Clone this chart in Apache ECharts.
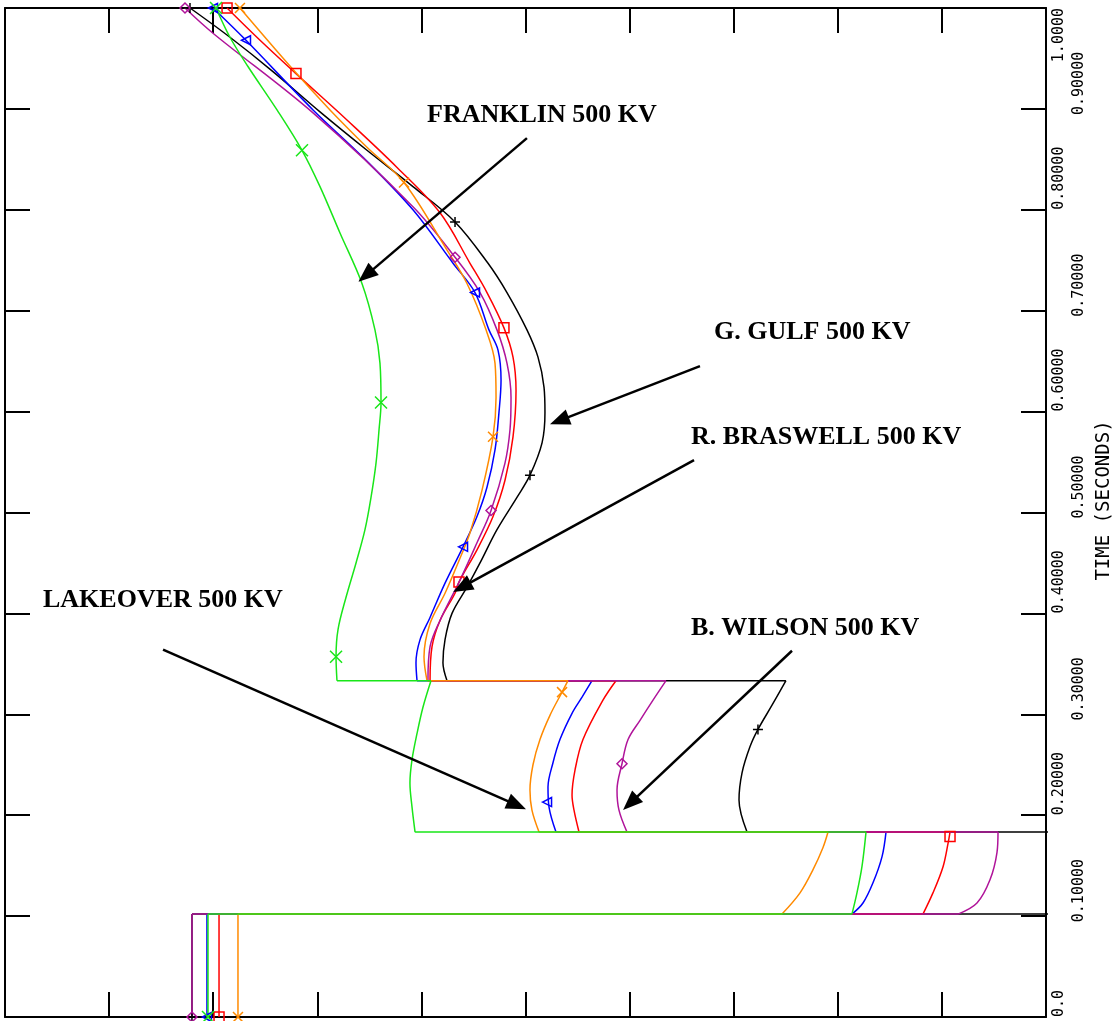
<!DOCTYPE html>
<html><head><meta charset="utf-8">
<script src="https://cdn.jsdelivr.net/npm/echarts@6/dist/echarts.min.js"></script>
<style>html,body{margin:0;padding:0;background:#fff}#c{width:1115px;height:1021px}</style>
</head><body><div id="c"></div>
<script>
// ---- tick labels (time axis) ----
const timeTickLabels = ['0.0','0.10000','0.20000','0.30000','0.40000','0.50000','0.60000','0.70000','0.80000','0.90000','1.0000'];

// ---- curves: [x (relative units), time (s)] ----
const gGulf = [[1.796,0],[1.796,0.102],[10.8,0.102],[10.8,0.1833],[7.128,0.1833],[7.051,0.215],[7.080,0.242],[7.157,0.268],[7.233,0.285],[7.368,0.309],[7.502,0.3333],
 [4.246,0.3333],[4.207,0.351],[4.227,0.374],[4.294,0.400],[4.438,0.426],[4.563,0.450],[4.726,0.483],[4.918,0.515],[5.043,0.537],[5.159,0.569],[5.187,0.599],[5.178,0.624],[5.120,0.654],[5.014,0.681],[4.822,0.718],[4.640,0.747],[4.323,0.788],[3.919,0.823],[3.477,0.859],[3.026,0.897],[2.574,0.937],[2.161,0.971],[1.777,1.0]];
const bWilson = [[1.796,0],[1.796,0.102],[9.155,0.102],[9.337,0.113],[9.462,0.136],[9.529,0.163],[9.539,0.1833],
 [5.975,0.1833],[5.898,0.205],[5.879,0.225],[5.927,0.251],[5.985,0.275],[6.100,0.294],[6.225,0.314],[6.350,0.3333],
 [4.063,0.3333],[4.083,0.367],[4.179,0.393],[4.371,0.433],[4.534,0.470],[4.669,0.502],[4.803,0.549],[4.851,0.582],[4.861,0.614],[4.822,0.648],[4.726,0.681],[4.563,0.718],[4.323,0.753],[3.919,0.803],[2.959,0.896],[1.998,0.975],[1.729,1.0]];
const lakeover = [[1.940,0],[1.940,0.102],[8.136,0.102],[8.242,0.113],[8.338,0.133],[8.425,0.159],[8.463,0.1833],
 [5.293,0.1833],[5.226,0.208],[5.216,0.228],[5.264,0.252],[5.331,0.275],[5.447,0.301],[5.543,0.317],[5.639,0.3333],
 [3.958,0.3333],[3.948,0.351],[3.987,0.374],[4.083,0.396],[4.227,0.430],[4.400,0.466],[4.534,0.496],[4.630,0.525],[4.707,0.562],[4.745,0.599],[4.765,0.631],[4.736,0.661],[4.649,0.681],[4.515,0.718],[4.304,0.747],[3.919,0.800],[3.439,0.852],[2.959,0.899],[2.315,0.968],[1.998,1.0]];
const franklin = [[1.950,0],[1.950,0.102],[8.136,0.102],[8.184,0.123],[8.232,0.149],[8.271,0.1833],
 [3.939,0.1833],[3.910,0.208],[3.890,0.232],[3.910,0.255],[3.958,0.281],[4.015,0.307],[4.092,0.3333],
 [3.189,0.3333],[3.180,0.357],[3.199,0.384],[3.276,0.416],[3.372,0.450],[3.458,0.483],[3.516,0.515],[3.564,0.549],[3.593,0.582],[3.612,0.609],[3.602,0.648],[3.554,0.681],[3.429,0.727],[3.218,0.777],[3.026,0.823],[2.853,0.859],[2.613,0.899],[2.334,0.942],[2.161,0.971],[2.027,1.0]];
const rBraswell = [[2.056,0],[2.056,0.102],[8.818,0.102],[8.914,0.123],[9.011,0.149],[9.059,0.172],[9.078,0.1833],
 [5.514,0.1833],[5.466,0.205],[5.447,0.220],[5.476,0.245],[5.552,0.275],[5.744,0.314],[5.869,0.3333],
 [4.083,0.3333],[4.102,0.367],[4.179,0.393],[4.323,0.420],[4.361,0.431],[4.534,0.463],[4.688,0.496],[4.803,0.532],[4.880,0.575],[4.909,0.621],[4.880,0.654],[4.793,0.683],[4.630,0.718],[4.467,0.747],[4.179,0.797],[3.766,0.842],[3.285,0.889],[2.795,0.935],[2.450,0.968],[2.133,1.0]];
const orangeBus = [[2.238,0],[2.238,0.102],[7.464,0.102],[7.637,0.123],[7.762,0.146],[7.858,0.168],[7.906,0.1833],
 [5.130,0.1833],[5.062,0.205],[5.043,0.225],[5.072,0.250],[5.139,0.275],[5.235,0.299],[5.351,0.322],[5.408,0.3333],
 [4.054,0.3333],[4.025,0.357],[4.083,0.390],[4.227,0.420],[4.352,0.450],[4.467,0.480],[4.582,0.522],[4.688,0.575],[4.717,0.614],[4.707,0.648],[4.621,0.681],[4.438,0.727],[4.246,0.760],[3.833,0.827],[3.477,0.862],[3.122,0.899],[2.767,0.939],[2.257,1.0]];

// ---- marker points on each curve ----
const gGulfMarks = [[1.796,0],[7.233,0.285],[5.043,0.537],[4.323,0.788],[1.777,1.0]];
const bWilsonMarks = [[1.796,0],[5.927,0.251],[4.669,0.502],[4.323,0.753],[1.729,1.0]];
const lakeoverMarks = [[1.940,0],[5.207,0.213],[4.400,0.466],[4.515,0.718],[2.315,0.968],[1.998,1.0]];
const franklinMarks = [[1.950,0],[3.180,0.357],[3.612,0.609],[2.853,0.859],[2.027,1.0]];
const rBraswellMarks = [[2.056,0],[9.078,0.179],[4.361,0.431],[4.793,0.683],[2.795,0.935],[2.133,1.0]];
const orangeMarks = [[2.238,0],[5.351,0.322],[4.688,0.575],[3.833,0.827],[2.257,1.0]];

// ---- annotations ----
const noteTexts = ['FRANKLIN 500 KV','G. GULF 500 KV','R. BRASWELL 500 KV','LAKEOVER 500 KV','B. WILSON 500 KV'];
const noteAt = [[4.054,0.894],[6.811,0.679],[6.590,0.575],[0.365,0.413],[6.590,0.385]];
const arrowFrom = [[5.014,0.871],[6.676,0.645],[6.619,0.552],[1.518,0.364],[7.560,0.363]];
const arrowTo = [[3.468,0.735],[5.325,0.591],[4.390,0.426],[4.917,0.210],[6.007,0.212]];

const PLUS = 'path://M5,0L5,10M0,5L10,5';
const CROSS = 'path://M0,0L10,10M10,0L0,10';
const FLATX = 'path://M0,2L10,8M0,8L10,2';

// drawing order: first drawn is at the bottom
const curves = [
  {name:'G. GULF', data:gGulf, marks:gGulfMarks, color:'#000000', symbol:PLUS, size:10, rot:0},
  {name:'LAKEOVER', data:lakeover, marks:lakeoverMarks, color:'#0000ff', symbol:'triangle', size:9, rot:90},
  {name:'R. BRASWELL', data:rBraswell, marks:rBraswellMarks, color:'#ff0000', symbol:'rect', size:10, rot:0},
  {name:'B. WILSON', data:bWilson, marks:bWilsonMarks, color:'#b0149a', symbol:'diamond', size:10, rot:0},
  {name:'OTHER', data:orangeBus, marks:orangeMarks, color:'#ff8a00', symbol:CROSS, size:10, rot:0},
  {name:'FRANKLIN', data:franklin, marks:franklinMarks, color:'#19e619', symbol:FLATX, size:12, rot:0}
];

// split a trace at the instantaneous jumps (equal times) so only the curved parts are smoothed
function segmented(pts){
  const segs = []; let cur = [pts[0]];
  for (let i = 1; i < pts.length; i++) {
    if (pts[i][1] === pts[i-1][1]) {
      if (cur.length > 1) segs.push(cur);
      segs.push([pts[i-1], pts[i]]);
      cur = [pts[i]];
    } else cur.push(pts[i]);
  }
  if (cur.length > 1) segs.push(cur);
  const out = [];
  segs.forEach((s, k) => { if (k) out.push('-'); s.forEach(p => out.push(p)); });
  return out;
}

const series = [];
curves.forEach(c => {
  series.push({type:'line', name:c.name, data:segmented(c.data), showSymbol:false, symbol:'none', smooth:0.35,
    connectNulls:false, lineStyle:{color:c.color, width:1.5}, clip:true, z:2});
});
curves.forEach(c => {
  series.push({type:'scatter', name:c.name+' marks', data:c.marks, symbol:c.symbol, symbolSize:c.size, symbolRotate:c.rot,
    itemStyle:{color:'transparent', borderColor:c.color, borderWidth:1.5, opacity:1}, z:3});
});
series.push({
  type:'scatter', name:'notes', symbolSize:0, z:5, itemStyle:{opacity:1},
  data: noteTexts.map((t,i) => ({name:t, value:noteAt[i]})),
  label:{show:true, position:[0,0], align:'left', verticalAlign:'middle', formatter:p=>p.name, opacity:1,
    fontFamily:'Liberation Serif', fontWeight:'bold', fontSize:26, color:'#000'},
  markLine:{silent:true, symbol:['none','triangle'], symbolSize:[16,20], animation:false,
    lineStyle:{color:'#000', width:2.5, type:'solid', opacity:1}, label:{show:false},
    data: arrowFrom.map((f,i)=>[{coord:f},{coord:arrowTo[i]}])}
});

const axLine = {show:true, onZero:false, lineStyle:{color:'#000', width:2}};
const axTick = {show:true, inside:true, length:25, lineStyle:{color:'#000', width:2}};
function xAx(pos){ return {type:'value', position:pos, min:0, max:10, interval:1, axisLine:axLine, axisTick:axTick, axisLabel:{show:false}, splitLine:{show:false}}; }
const labelFont = {fontFamily:'DejaVu Sans Mono', fontSize:15, color:'#000'};
function lab(v){ return timeTickLabels[Math.round(v*10)]; }
function yAx(pos, extra){ return Object.assign({type:'value', position:pos, min:0, max:1, interval:0.1, splitLine:{show:false}}, extra); }

const option = {
  animation:false,
  backgroundColor:'#fff',
  grid:{left:5, right:69, top:8, bottom:4, containLabel:false, outerBoundsMode:'none'},
  xAxis:[xAx('bottom'), xAx('top')],
  yAxis:[
    yAx('left', {axisLine:axLine, axisTick:axTick, axisLabel:{show:false}}),
    yAx('right', {axisLine:axLine, axisTick:axTick,
      axisLabel:Object.assign({show:true, rotate:90, align:'left', margin:6, showMinLabel:true, showMaxLabel:true,
        formatter:v=>{const i=Math.round(v*10); return (i%2===0 && i<10)?lab(v):'';}}, labelFont)}),
    yAx('right', {axisLine:{show:false}, axisTick:{show:false},
      axisLabel:Object.assign({show:true, rotate:90, align:'center', padding:[0,0,0,51], margin:26, showMinLabel:true, showMaxLabel:true,
        formatter:v=>{const i=Math.round(v*10); return (i%2===1)?lab(v):'';}}, labelFont),
      name:'TIME (SECONDS)', nameLocation:'middle', nameRotate:90, nameGap:43,
      nameTextStyle:{fontFamily:'DejaVu Sans Mono', fontSize:19, color:'#000', padding:[0,0,0,24]}}),
    yAx('right', {axisLine:{show:false}, axisTick:{show:false},
      axisLabel:Object.assign({show:true, rotate:90, align:'right', margin:6, showMinLabel:true, showMaxLabel:true,
        formatter:v=>{const i=Math.round(v*10); return (i===10)?lab(v):'';}}, labelFont)})
  ],
  series: series
};
const chart = echarts.init(document.getElementById('c'));
chart.setOption(option);
</script>
</body></html>
